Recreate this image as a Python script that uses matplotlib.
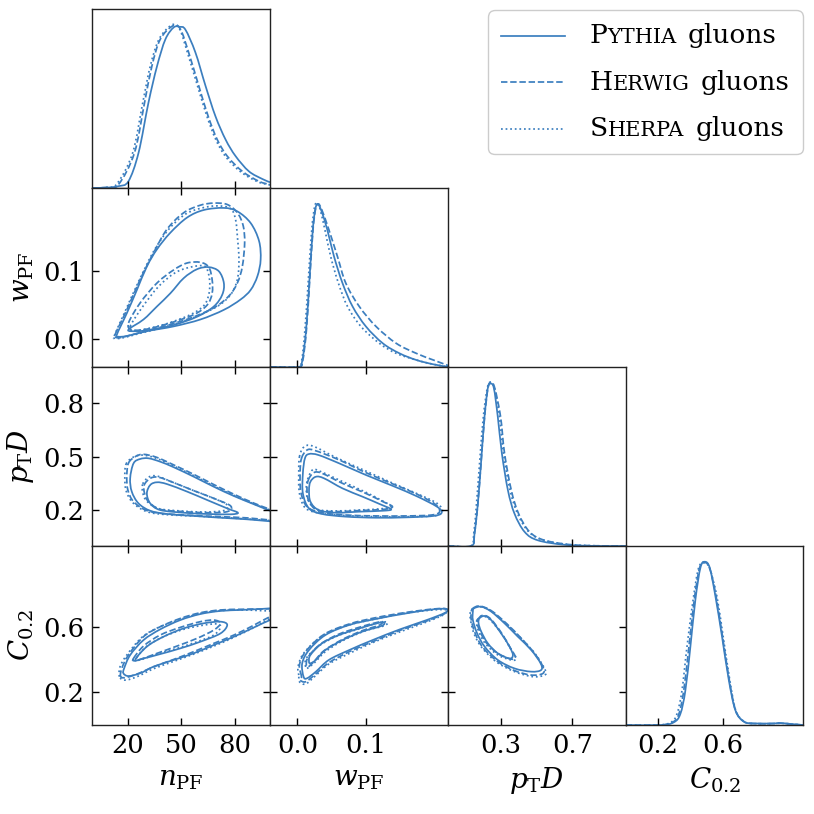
import numpy as np
import matplotlib
matplotlib.use('Agg')
import matplotlib.pyplot as plt
from matplotlib.lines import Line2D
from matplotlib.path import Path
from matplotlib.patches import PathPatch
from matplotlib.offsetbox import AnchoredOffsetbox, DrawingArea, HPacker, VPacker, TextArea

plt.rcParams['font.family'] = ['DejaVu Serif']
plt.rcParams['mathtext.fontset'] = 'dejavuserif'

BLUE = '#3b7ebf'

# variables, axis ranges and ticks
var_labels = [r'$n_{\rm PF}$', r'$w_{\rm PF}$', r'$p_{\rm T}D$', r'$C_{0.2}$']
var_limits = [(0, 100), (-0.04, 0.22), (0.0, 1.0), (0.0, 1.1)]
x_ticks = [[20, 50, 80], [0.0, 0.1], [0.3, 0.7], [0.2, 0.6]]
y_ticks = [[20, 50, 80], [0.0, 0.1], [0.2, 0.5, 0.8], [0.2, 0.6]]
x_ticklabels = [['20', '50', '80'], ['0.0', '0.1'], ['0.3', '0.7'], ['0.2', '0.6']]
y_ticklabels = [['20', '50', '80'], ['0.0', '0.1'], ['0.2', '0.5', '0.8'], ['0.2', '0.6']]

generators = ['Pythia', 'Herwig', 'Sherpa']
styles = ['-', '--', ':']

# ---- 1D densities (relative to panel height) ----
npf_pythia_x = [0, 8, 14.7, 20.3, 26, 31.6, 36.4, 41.1, 45.8, 49.2, 52.4, 58, 63.7, 69.3, 75, 80.6, 88.1, 95.7, 100]
npf_pythia_y = [0, 0.002, 0.01, 0.037, 0.196, 0.477, 0.68, 0.83, 0.897, 0.90, 0.884, 0.757, 0.57, 0.40, 0.27, 0.178, 0.093, 0.05, 0.032]
npf_herwig_x = [0, 8, 14.7, 23.7, 29.4, 33.5, 38.2, 45.2, 49.5, 54.2, 59.9, 65.2, 70.3, 75.9, 84.4, 93.8, 100]
npf_herwig_y = [0, 0.003, 0.019, 0.196, 0.477, 0.68, 0.83, 0.905, 0.888, 0.757, 0.57, 0.40, 0.27, 0.178, 0.093, 0.037, 0.019]
npf_sherpa_x = [0, 8, 14, 22.7, 28.4, 32.6, 37.5, 44.6, 49, 53.5, 59.2, 64.5, 69.5, 75, 83.5, 93, 100]
npf_sherpa_y = [0, 0.003, 0.025, 0.196, 0.477, 0.68, 0.83, 0.91, 0.89, 0.757, 0.57, 0.40, 0.27, 0.175, 0.09, 0.035, 0.017]

wpf_pythia_x = [-0.04, 0.0, 0.0068, 0.0127, 0.0176, 0.0225, 0.0265, 0.0305, 0.0353, 0.0437, 0.0535, 0.066, 0.0807, 0.1003, 0.125, 0.1495, 0.174, 0.1988, 0.221]
wpf_pythia_y = [0, 0, 0.03, 0.207, 0.487, 0.767, 0.888, 0.907, 0.87, 0.767, 0.618, 0.468, 0.338, 0.226, 0.132, 0.076, 0.039, 0.015, 0]
wpf_herwig_x = [-0.04, 0.001, 0.0075, 0.0132, 0.018, 0.0228, 0.027, 0.031, 0.036, 0.046, 0.0585, 0.0708, 0.0905, 0.1151, 0.1446, 0.174, 0.1988, 0.2185, 0.221]
wpf_herwig_y = [0, 0, 0.03, 0.207, 0.487, 0.767, 0.89, 0.91, 0.875, 0.767, 0.618, 0.468, 0.338, 0.226, 0.132, 0.076, 0.039, 0.011, 0.006]
wpf_sherpa_x = [-0.04, 0.0, 0.006, 0.011, 0.016, 0.021, 0.0255, 0.03, 0.034, 0.0402, 0.0486, 0.06, 0.0733, 0.093, 0.12, 0.1446, 0.174, 0.1988, 0.221]
wpf_sherpa_y = [0, 0, 0.03, 0.207, 0.487, 0.767, 0.9, 0.915, 0.87, 0.767, 0.618, 0.468, 0.338, 0.226, 0.132, 0.076, 0.039, 0.015, 0]

ptd_pythia_x = [0, 0.132, 0.150, 0.169, 0.188, 0.2065, 0.225, 0.240, 0.259, 0.281, 0.304, 0.338, 0.375, 0.432, 0.506, 0.657, 0.844, 1.0]
ptd_pythia_y = [0, 0, 0.069, 0.237, 0.48, 0.723, 0.882, 0.907, 0.882, 0.723, 0.518, 0.312, 0.181, 0.079, 0.032, 0.007, 0, 0]
ptd_herwig_x = [0, 0.132, 0.150, 0.169, 0.188, 0.207, 0.226, 0.243, 0.264, 0.2966, 0.319, 0.357, 0.398, 0.46, 0.544, 0.694, 0.85, 1.0]
ptd_herwig_y = [0, 0, 0.069, 0.237, 0.48, 0.723, 0.882, 0.915, 0.882, 0.723, 0.518, 0.312, 0.181, 0.079, 0.032, 0.007, 0.001, 0]
ptd_sherpa_x = [0, 0.128, 0.146, 0.1615, 0.18, 0.2, 0.222, 0.241, 0.262, 0.29, 0.313, 0.35, 0.392, 0.455, 0.54, 0.69, 0.85, 1.0]
ptd_sherpa_y = [0, 0, 0.069, 0.237, 0.48, 0.723, 0.882, 0.915, 0.882, 0.723, 0.518, 0.312, 0.181, 0.079, 0.032, 0.007, 0.001, 0]

c02_pythia_x = [0, 0.215, 0.298, 0.339, 0.370, 0.401, 0.432, 0.463, 0.490, 0.521, 0.556, 0.597, 0.639, 0.680, 0.732, 0.794, 0.918, 0.96, 1.042, 1.1]
c02_pythia_y = [0, 0, 0.015, 0.062, 0.193, 0.437, 0.70, 0.878, 0.912, 0.878, 0.719, 0.493, 0.25, 0.081, 0.019, 0.009, 0.009, 0.011, 0.004, 0]
c02_herwig_x = [0, 0.208, 0.29, 0.33, 0.36, 0.392, 0.425, 0.458, 0.489, 0.521, 0.56, 0.6, 0.642, 0.681, 0.733, 0.794, 0.918, 0.96, 1.042, 1.1]
c02_herwig_y = [0, 0, 0.015, 0.062, 0.193, 0.437, 0.70, 0.878, 0.908, 0.874, 0.719, 0.493, 0.25, 0.081, 0.019, 0.008, 0.008, 0.01, 0.004, 0]
c02_sherpa_x = [0, 0.2, 0.28, 0.318, 0.349, 0.380, 0.418, 0.452, 0.488, 0.522, 0.565, 0.604, 0.645, 0.682, 0.735, 0.794, 0.918, 0.96, 1.042, 1.1]
c02_sherpa_y = [0, 0, 0.015, 0.062, 0.193, 0.437, 0.70, 0.878, 0.906, 0.87, 0.719, 0.493, 0.25, 0.081, 0.019, 0.008, 0.008, 0.01, 0.004, 0]

# ---- 2D contours (outer and inner level), n_PF vs w_PF ----
nw_pythia_outer_x = [13.8, 19.4, 25.1, 30.7, 36.4, 43.9, 53.3, 62.7, 74.0, 81.6, 89.1, 93.8, 94.7, 92.9, 89.1, 83.4, 74.0, 60.8, 45.8, 30.7, 19.4, 14.7]
nw_pythia_outer_y = [0.007, 0.038, 0.072, 0.106, 0.131, 0.155, 0.177, 0.188, 0.191, 0.186, 0.169, 0.143, 0.116, 0.092, 0.072, 0.058, 0.043, 0.029, 0.019, 0.012, 0.005, 0.004]
nw_pythia_inner_x = [20.2, 28.8, 36.4, 43.9, 51.4, 58.9, 65.5, 71.2, 74.0, 73.1, 68.4, 58.9, 45.8, 32.6, 25.1]
nw_pythia_inner_y = [0.014, 0.029, 0.048, 0.067, 0.089, 0.102, 0.105, 0.099, 0.082, 0.065, 0.048, 0.033, 0.021, 0.014, 0.012]
nw_herwig_outer_x = [12.8, 19.4, 26.9, 34.5, 42.0, 51.4, 60.8, 68.4, 75.9, 81.6, 84.9, 85.7, 84.4, 81.6, 76.8, 68.4, 55.2, 40.1, 26.9, 16.6, 13.4]
nw_herwig_outer_y = [0.007, 0.043, 0.087, 0.126, 0.160, 0.184, 0.195, 0.198, 0.196, 0.184, 0.165, 0.140, 0.106, 0.082, 0.063, 0.046, 0.031, 0.019, 0.010, 0.003, 0.003]
nw_herwig_inner_x = [20.4, 26.9, 36.4, 45.8, 53.3, 60.8, 65.5, 67.4, 67.4, 64.6, 57.1, 43.9, 30.7, 22.2]
nw_herwig_inner_y = [0.024, 0.053, 0.082, 0.101, 0.111, 0.112, 0.105, 0.087, 0.067, 0.050, 0.036, 0.024, 0.015, 0.014]
nw_sherpa_outer_x = [12.3, 18.5, 26.0, 34.5, 43.0, 52.4, 61.8, 70.3, 77.8, 80.6, 81.6, 82.5, 81.6, 77.8, 70.3, 57.1, 42.0, 26.9, 16.6, 12.8]
nw_sherpa_outer_y = [0.005, 0.041, 0.084, 0.128, 0.160, 0.182, 0.191, 0.194, 0.190, 0.174, 0.150, 0.116, 0.087, 0.065, 0.048, 0.032, 0.019, 0.009, 0.002, 0.002]
nw_sherpa_inner_x = [21.3, 27.9, 37.3, 46.7, 55.2, 62.7, 65.0, 66.1, 65.5, 62.7, 55.2, 42.0, 29.8, 22.8]
nw_sherpa_inner_y = [0.019, 0.046, 0.077, 0.097, 0.105, 0.107, 0.099, 0.082, 0.065, 0.049, 0.036, 0.023, 0.015, 0.013]

# n_PF vs p_T D
np_pythia_outer_x = [23.2, 26.9, 31.6, 38.2, 45.8, 57.1, 68.4, 79.7, 91.0, 100.0, 104.1, 104.1, 100.0, 87.2, 72.1, 57.1, 42.0, 32.6, 26.0, 22.2, 21.3]
np_pythia_outer_y = [0.462, 0.486, 0.490, 0.471, 0.440, 0.387, 0.331, 0.279, 0.233, 0.197, 0.182, 0.136, 0.138, 0.149, 0.158, 0.168, 0.179, 0.197, 0.238, 0.304, 0.378]
np_pythia_inner_x = [32.6, 36.4, 42.0, 53.3, 64.6, 75.9, 81.9, 77.8, 64.6, 51.4, 38.2, 32.6, 30.7]
np_pythia_inner_y = [0.341, 0.356, 0.346, 0.304, 0.257, 0.210, 0.186, 0.177, 0.179, 0.186, 0.201, 0.238, 0.294]
np_herwig_outer_x = [20.3, 24.1, 28.8, 36.3, 45.8, 57.1, 68.4, 79.7, 91.0, 100.0, 104.1, 104.1, 100.0, 87.2, 72.1, 57.1, 42.0, 30.7, 23.2, 20.0, 19.4]
np_herwig_outer_y = [0.462, 0.499, 0.512, 0.495, 0.453, 0.400, 0.343, 0.289, 0.239, 0.205, 0.192, 0.145, 0.145, 0.157, 0.164, 0.171, 0.179, 0.198, 0.248, 0.313, 0.387]
np_herwig_inner_x = [29.2, 32.6, 37.3, 45.8, 57.1, 68.4, 77.8, 75.9, 64.6, 51.4, 38.2, 31.6, 29.4]
np_herwig_inner_y = [0.341, 0.378, 0.384, 0.354, 0.309, 0.266, 0.224, 0.192, 0.186, 0.192, 0.205, 0.248, 0.294]
np_sherpa_outer_x = [19.0, 22.8, 27.9, 35.4, 45.8, 57.1, 68.4, 79.7, 91.0, 100.0, 104.1, 104.1, 100.0, 87.2, 72.1, 57.1, 42.0, 30.7, 22.8, 19.0, 18.3]
np_sherpa_outer_y = [0.458, 0.495, 0.508, 0.492, 0.447, 0.393, 0.335, 0.283, 0.235, 0.201, 0.188, 0.140, 0.142, 0.151, 0.160, 0.168, 0.175, 0.192, 0.242, 0.309, 0.387]
np_sherpa_inner_x = [28.4, 31.6, 36.3, 44.8, 56.1, 67.4, 75.9, 74.0, 62.7, 49.5, 37.3, 30.7, 28.4]
np_sherpa_inner_y = [0.347, 0.384, 0.391, 0.358, 0.313, 0.270, 0.229, 0.198, 0.190, 0.196, 0.209, 0.250, 0.298]

# n_PF vs C_0.2
nc_pythia_outer_x = [17.9, 21.3, 28.8, 38.2, 49.5, 60.8, 72.1, 83.4, 94.7, 100.0, 104.1, 104.1, 100.0, 91.0, 79.7, 68.4, 57.1, 45.8, 34.5, 26.9, 20.3, 17.5]
nc_pythia_outer_y = [0.348, 0.430, 0.522, 0.588, 0.645, 0.682, 0.701, 0.707, 0.713, 0.717, 0.717, 0.656, 0.645, 0.600, 0.543, 0.492, 0.441, 0.400, 0.359, 0.318, 0.301, 0.318]
nc_pythia_inner_x = [24.1, 30.7, 40.1, 51.4, 62.7, 72.1, 75.9, 72.1, 60.8, 49.5, 38.2, 28.8]
nc_pythia_inner_y = [0.400, 0.482, 0.543, 0.594, 0.625, 0.635, 0.615, 0.563, 0.512, 0.471, 0.436, 0.409]
nc_herwig_outer_x = [16.0, 16.6, 20.3, 28.8, 38.2, 49.5, 60.8, 72.1, 83.4, 94.7, 104.1, 104.1, 100.0, 91.0, 79.7, 68.4, 57.1, 45.8, 34.5, 26.9, 19.4]
nc_herwig_outer_y = [0.297, 0.348, 0.430, 0.543, 0.604, 0.655, 0.690, 0.707, 0.711, 0.713, 0.711, 0.676, 0.666, 0.614, 0.553, 0.502, 0.451, 0.403, 0.358, 0.321, 0.293]
nc_herwig_inner_x = [23.2, 28.8, 38.2, 49.5, 60.8, 68.4, 72.1, 68.4, 59.0, 47.6, 36.3, 26.9, 23.5]
nc_herwig_inner_y = [0.410, 0.485, 0.553, 0.600, 0.635, 0.645, 0.625, 0.584, 0.533, 0.485, 0.440, 0.403, 0.395]
nc_sherpa_outer_x = [15.3, 15.6, 19.4, 27.9, 37.3, 49.5, 60.8, 72.1, 83.4, 94.7, 104.1, 104.1, 100.0, 91.0, 79.7, 68.4, 57.1, 45.8, 34.5, 25.1, 18.5]
nc_sherpa_outer_y = [0.297, 0.358, 0.430, 0.539, 0.600, 0.649, 0.686, 0.703, 0.707, 0.703, 0.696, 0.666, 0.655, 0.600, 0.539, 0.485, 0.436, 0.391, 0.346, 0.297, 0.276]
nc_sherpa_inner_x = [25.1, 30.7, 40.1, 51.4, 62.7, 70.2, 72.1, 68.4, 59.0, 47.6, 36.3, 27.9, 25.1]
nc_sherpa_inner_y = [0.416, 0.485, 0.543, 0.588, 0.614, 0.621, 0.600, 0.553, 0.512, 0.471, 0.436, 0.403, 0.399]

# w_PF vs p_T D
wp_pythia_outer_x = [0.011, 0.017, 0.031, 0.061, 0.100, 0.140, 0.174, 0.204, 0.211, 0.199, 0.159, 0.115, 0.071, 0.036, 0.017, 0.008, 0.008]
wp_pythia_outer_y = [0.490, 0.514, 0.508, 0.462, 0.397, 0.335, 0.279, 0.220, 0.186, 0.168, 0.160, 0.158, 0.164, 0.179, 0.210, 0.294, 0.406]
wp_pythia_inner_x = [0.019, 0.027, 0.039, 0.066, 0.095, 0.120, 0.137, 0.125, 0.091, 0.056, 0.031, 0.019, 0.017]
wp_pythia_inner_y = [0.359, 0.387, 0.378, 0.322, 0.276, 0.235, 0.205, 0.197, 0.192, 0.186, 0.201, 0.248, 0.313]
wp_herwig_outer_x = [0.006, 0.014, 0.026, 0.061, 0.100, 0.140, 0.174, 0.201, 0.208, 0.196, 0.159, 0.115, 0.071, 0.036, 0.014, 0.005, 0.004]
wp_herwig_outer_y = [0.490, 0.536, 0.533, 0.481, 0.410, 0.346, 0.291, 0.235, 0.192, 0.173, 0.168, 0.168, 0.173, 0.186, 0.220, 0.304, 0.415]
wp_herwig_inner_x = [0.016, 0.024, 0.036, 0.066, 0.100, 0.125, 0.139, 0.127, 0.090, 0.056, 0.029, 0.017, 0.014]
wp_herwig_inner_y = [0.369, 0.410, 0.406, 0.350, 0.294, 0.248, 0.220, 0.205, 0.198, 0.192, 0.201, 0.248, 0.313]
wp_sherpa_outer_x = [0.003, 0.009, 0.022, 0.056, 0.100, 0.140, 0.174, 0.204, 0.212, 0.199, 0.159, 0.115, 0.071, 0.034, 0.012, 0.003, 0.002]
wp_sherpa_outer_y = [0.499, 0.551, 0.559, 0.495, 0.419, 0.350, 0.294, 0.239, 0.192, 0.168, 0.164, 0.164, 0.170, 0.183, 0.211, 0.294, 0.415]
wp_sherpa_inner_x = [0.015, 0.022, 0.031, 0.063, 0.098, 0.122, 0.136, 0.125, 0.090, 0.056, 0.029, 0.016, 0.013]
wp_sherpa_inner_y = [0.373, 0.425, 0.421, 0.365, 0.304, 0.257, 0.224, 0.209, 0.201, 0.196, 0.205, 0.253, 0.317]

# w_PF vs C_0.2
wc_pythia_outer_x = [0.009, 0.007, 0.017, 0.041, 0.076, 0.115, 0.159, 0.199, 0.218, 0.216, 0.189, 0.150, 0.110, 0.076, 0.046, 0.027, 0.014]
wc_pythia_outer_y = [0.297, 0.379, 0.461, 0.553, 0.615, 0.652, 0.686, 0.711, 0.713, 0.690, 0.645, 0.588, 0.522, 0.461, 0.400, 0.328, 0.287]
wc_pythia_inner_x = [0.017, 0.019, 0.036, 0.061, 0.091, 0.120, 0.127, 0.123, 0.095, 0.066, 0.041, 0.027, 0.019]
wc_pythia_inner_y = [0.389, 0.430, 0.502, 0.553, 0.594, 0.629, 0.629, 0.609, 0.574, 0.522, 0.461, 0.400, 0.379]
wc_herwig_outer_x = [0.006, 0.003, 0.012, 0.039, 0.076, 0.115, 0.159, 0.199, 0.218, 0.216, 0.189, 0.149, 0.110, 0.076, 0.046, 0.026, 0.012, 0.004]
wc_herwig_outer_y = [0.297, 0.369, 0.451, 0.557, 0.621, 0.660, 0.692, 0.713, 0.713, 0.686, 0.639, 0.580, 0.512, 0.451, 0.383, 0.311, 0.266, 0.276]
wc_herwig_inner_x = [0.013, 0.016, 0.034, 0.061, 0.090, 0.115, 0.124, 0.120, 0.095, 0.066, 0.039, 0.024, 0.016]
wc_herwig_inner_y = [0.369, 0.420, 0.498, 0.559, 0.600, 0.629, 0.635, 0.614, 0.580, 0.526, 0.457, 0.389, 0.358]
wc_sherpa_outer_x = [0.002, 0.001, 0.009, 0.036, 0.073, 0.115, 0.159, 0.199, 0.218, 0.214, 0.189, 0.149, 0.110, 0.076, 0.046, 0.026, 0.012, 0.003]
wc_sherpa_outer_y = [0.307, 0.358, 0.440, 0.547, 0.612, 0.653, 0.688, 0.707, 0.707, 0.678, 0.633, 0.571, 0.506, 0.440, 0.375, 0.301, 0.252, 0.266]
wc_sherpa_inner_x = [0.012, 0.013, 0.031, 0.058, 0.088, 0.115, 0.131, 0.127, 0.100, 0.068, 0.041, 0.025, 0.014]
wc_sherpa_inner_y = [0.358, 0.410, 0.485, 0.547, 0.588, 0.625, 0.633, 0.610, 0.580, 0.522, 0.451, 0.383, 0.348]

# p_T D vs C_0.2
pc_pythia_outer_x = [0.147, 0.188, 0.244, 0.319, 0.394, 0.469, 0.522, 0.525, 0.469, 0.375, 0.281, 0.207, 0.165, 0.141, 0.141]
pc_pythia_outer_y = [0.717, 0.727, 0.697, 0.625, 0.543, 0.461, 0.379, 0.338, 0.328, 0.348, 0.400, 0.482, 0.563, 0.645, 0.697]
pc_pythia_inner_x = [0.178, 0.207, 0.244, 0.300, 0.347, 0.366, 0.347, 0.281, 0.225, 0.188, 0.173]
pc_pythia_inner_y = [0.656, 0.670, 0.645, 0.563, 0.482, 0.430, 0.409, 0.441, 0.502, 0.574, 0.625]
pc_herwig_outer_x = [0.141, 0.179, 0.244, 0.329, 0.413, 0.488, 0.535, 0.535, 0.469, 0.376, 0.282, 0.197, 0.154, 0.132, 0.132]
pc_herwig_outer_y = [0.717, 0.731, 0.703, 0.625, 0.533, 0.440, 0.358, 0.317, 0.307, 0.334, 0.389, 0.477, 0.563, 0.645, 0.696]
pc_herwig_inner_x = [0.169, 0.197, 0.240, 0.301, 0.353, 0.379, 0.357, 0.282, 0.216, 0.179, 0.165]
pc_herwig_inner_y = [0.649, 0.674, 0.653, 0.567, 0.471, 0.420, 0.405, 0.440, 0.506, 0.580, 0.625]
pc_sherpa_outer_x = [0.135, 0.169, 0.235, 0.329, 0.422, 0.497, 0.548, 0.544, 0.479, 0.376, 0.272, 0.188, 0.147, 0.128, 0.126]
pc_sherpa_outer_y = [0.707, 0.727, 0.707, 0.621, 0.522, 0.430, 0.338, 0.307, 0.297, 0.328, 0.389, 0.481, 0.563, 0.645, 0.690]
pc_sherpa_inner_x = [0.165, 0.192, 0.235, 0.304, 0.357, 0.385, 0.361, 0.282, 0.210, 0.175, 0.162]
pc_sherpa_inner_y = [0.645, 0.670, 0.649, 0.559, 0.461, 0.410, 0.399, 0.430, 0.502, 0.573, 0.621]

densities = {
    0: [(npf_pythia_x, npf_pythia_y), (npf_herwig_x, npf_herwig_y), (npf_sherpa_x, npf_sherpa_y)],
    1: [(wpf_pythia_x, wpf_pythia_y), (wpf_herwig_x, wpf_herwig_y), (wpf_sherpa_x, wpf_sherpa_y)],
    2: [(ptd_pythia_x, ptd_pythia_y), (ptd_herwig_x, ptd_herwig_y), (ptd_sherpa_x, ptd_sherpa_y)],
    3: [(c02_pythia_x, c02_pythia_y), (c02_herwig_x, c02_herwig_y), (c02_sherpa_x, c02_sherpa_y)],
}

# (row, col) -> per generator [(outer x, outer y), (inner x, inner y)]
contours = {
    (1, 0): [[(nw_pythia_outer_x, nw_pythia_outer_y), (nw_pythia_inner_x, nw_pythia_inner_y)],
             [(nw_herwig_outer_x, nw_herwig_outer_y), (nw_herwig_inner_x, nw_herwig_inner_y)],
             [(nw_sherpa_outer_x, nw_sherpa_outer_y), (nw_sherpa_inner_x, nw_sherpa_inner_y)]],
    (2, 0): [[(np_pythia_outer_x, np_pythia_outer_y), (np_pythia_inner_x, np_pythia_inner_y)],
             [(np_herwig_outer_x, np_herwig_outer_y), (np_herwig_inner_x, np_herwig_inner_y)],
             [(np_sherpa_outer_x, np_sherpa_outer_y), (np_sherpa_inner_x, np_sherpa_inner_y)]],
    (3, 0): [[(nc_pythia_outer_x, nc_pythia_outer_y), (nc_pythia_inner_x, nc_pythia_inner_y)],
             [(nc_herwig_outer_x, nc_herwig_outer_y), (nc_herwig_inner_x, nc_herwig_inner_y)],
             [(nc_sherpa_outer_x, nc_sherpa_outer_y), (nc_sherpa_inner_x, nc_sherpa_inner_y)]],
    (2, 1): [[(wp_pythia_outer_x, wp_pythia_outer_y), (wp_pythia_inner_x, wp_pythia_inner_y)],
             [(wp_herwig_outer_x, wp_herwig_outer_y), (wp_herwig_inner_x, wp_herwig_inner_y)],
             [(wp_sherpa_outer_x, wp_sherpa_outer_y), (wp_sherpa_inner_x, wp_sherpa_inner_y)]],
    (3, 1): [[(wc_pythia_outer_x, wc_pythia_outer_y), (wc_pythia_inner_x, wc_pythia_inner_y)],
             [(wc_herwig_outer_x, wc_herwig_outer_y), (wc_herwig_inner_x, wc_herwig_inner_y)],
             [(wc_sherpa_outer_x, wc_sherpa_outer_y), (wc_sherpa_inner_x, wc_sherpa_inner_y)]],
    (3, 2): [[(pc_pythia_outer_x, pc_pythia_outer_y), (pc_pythia_inner_x, pc_pythia_inner_y)],
             [(pc_herwig_outer_x, pc_herwig_outer_y), (pc_herwig_inner_x, pc_herwig_inner_y)],
             [(pc_sherpa_outer_x, pc_sherpa_outer_y), (pc_sherpa_inner_x, pc_sherpa_inner_y)]],
}

TICK_FS = 18.5
LABEL_FS = 20
LW = 1.25


def smooth_path(xs, ys, closed):
    """Bezier path running through the read points (Catmull-Rom handles)."""
    pts = np.column_stack([xs, ys]).astype(float)
    if closed:
        p = np.vstack([pts[-1], pts, pts[0], pts[1]])
    else:
        p = np.vstack([pts[0], pts, pts[-1]])
    verts = [p[1]]
    codes = [Path.MOVETO]
    for k in range(1, len(p) - 2):
        c1 = p[k] + (p[k + 1] - p[k - 1]) / 6
        c2 = p[k + 1] - (p[k + 2] - p[k]) / 6
        verts += [c1, c2, p[k + 1]]
        codes += [Path.CURVE4] * 3
    return Path(verts, codes)


fig, axes = plt.subplots(4, 4, figsize=(8.14, 8.14), dpi=100,
                         gridspec_kw=dict(wspace=0, hspace=0))
fig.subplots_adjust(left=0.1134, right=0.9869, bottom=0.1093, top=0.989)

for i in range(4):
    for j in range(4):
        ax = axes[i, j]
        if j > i:
            ax.remove()
            continue
        for s in ax.spines.values():
            s.set_linewidth(1.0)
            s.set_color('#222222')
        ax.set_xlim(*var_limits[j])
        ax.set_xticks(x_ticks[j])
        if i == j:
            for (xs, ys), ls in zip(densities[i], styles):
                ax.add_patch(PathPatch(smooth_path(xs, ys, False), fill=False,
                                       edgecolor=BLUE, lw=LW, ls=ls))
            ax.set_ylim(0, 1)
            ax.set_yticks([])
            ax.tick_params(axis='x', direction='in', length=5, width=1, top=False)
        else:
            for gen, ls in zip(contours[(i, j)], styles):
                for xs, ys in gen:
                    ax.add_patch(PathPatch(smooth_path(xs, ys, True), fill=False,
                                           edgecolor=BLUE, lw=LW, ls=ls))
            ax.set_ylim(*var_limits[i])
            ax.set_yticks(y_ticks[i])
            ax.tick_params(direction='in', length=5, width=1, top=True, right=True)
        if i == 3:
            ax.set_xticklabels(x_ticklabels[j], fontsize=TICK_FS)
            ax.set_xlabel(var_labels[j], fontsize=LABEL_FS, labelpad=5)
        else:
            ax.set_xticklabels([])
        if j == 0 and i > 0:
            ax.set_yticklabels(y_ticklabels[i], fontsize=TICK_FS)
            ax.set_ylabel(var_labels[i], fontsize=LABEL_FS, labelpad=5)
        elif i != j:
            ax.set_yticklabels([])
        ax.tick_params(pad=6)

fig.align_ylabels(axes[1:, 0])

# legend with small-caps generator names
rows = []
for name, ls in zip(generators, styles):
    da = DrawingArea(46, 14, 0, 0)
    da.add_artist(Line2D([0, 46], [7, 7], color=BLUE, lw=LW, ls=ls))
    head = TextArea(name[0], textprops=dict(fontsize=19))
    rest = TextArea(name[1:].upper(), textprops=dict(fontsize=15))
    word = HPacker(children=[head, rest], align='baseline', pad=0, sep=0)
    tail = TextArea('gluons', textprops=dict(fontsize=19))
    txt = HPacker(children=[word, tail], align='baseline', pad=0, sep=8)
    rows.append(HPacker(children=[da, txt], align='center', pad=0, sep=18))
box = VPacker(children=rows, align='left', pad=0, sep=15.5)
leg = AnchoredOffsetbox(loc='upper right', child=box, pad=0.95, borderpad=0,
                        frameon=True, prop=dict(size=10),
                        bbox_to_anchor=(803 / 814, 1 - 10 / 814),
                        bbox_transform=fig.transFigure)
leg.patch.set_boxstyle('round,pad=0,rounding_size=0.5')
leg.patch.set_edgecolor('0.8')
leg.patch.set_linewidth(1.0)
fig.add_artist(leg)

fig.savefig('out.png', dpi=100)
